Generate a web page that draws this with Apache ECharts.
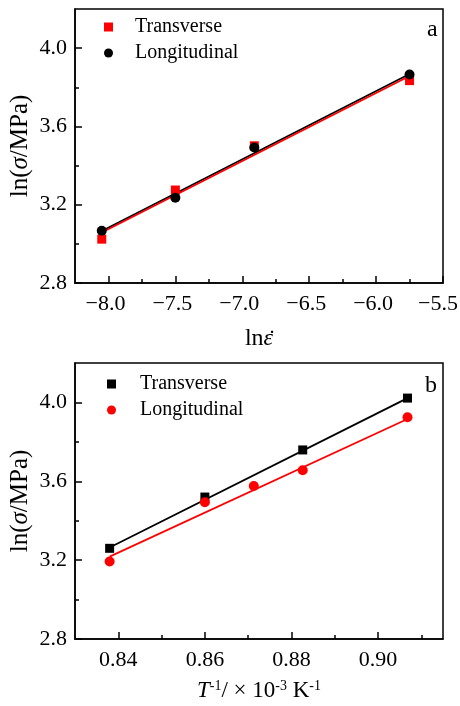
<!DOCTYPE html>
<html><head><meta charset="utf-8">
<script src="https://cdn.jsdelivr.net/npm/echarts@6/dist/echarts.min.js"></script>
<style>html,body{margin:0;padding:0;background:#fff}#c{width:460px;height:706px}</style>
</head><body><div id="c"></div>
<script>
const FONT = '"Liberation Serif","Times New Roman",serif';
// ---- Panel a data ----
const aTransX = [-8.05, -7.50, -6.91, -5.75];
const aTransY = [3.024, 3.275, 3.501, 3.834];
const aLongX = [-8.05, -7.50, -6.91, -5.75];
const aLongY = [3.067, 3.236, 3.492, 3.865];
const aTransFitX = [-8.05, -5.75];
const aTransFitY = [3.058, 3.858];
const aLongFitX = [-8.05, -5.75];
const aLongFitY = [3.066, 3.868];
const aXTicks = [-8.0, -7.5, -7.0, -6.5, -6.0, -5.5];
const aXMinor = [-7.75, -7.25, -6.75, -6.25, -5.75];
// ---- Panel b data ----
const bTransX = [0.838, 0.860, 0.8826, 0.9068];
const bTransY = [3.260, 3.520, 3.759, 4.022];
const bLongX = [0.838, 0.860, 0.8713, 0.8826, 0.9068];
const bLongY = [3.193, 3.494, 3.576, 3.656, 3.925];
const bTransFitX = [0.838, 0.9068];
const bTransFitY = [3.264, 4.022];
const bLongFitX = [0.838, 0.9068];
const bLongFitY = [3.218, 3.916];
const bXTicks = [0.84, 0.86, 0.88, 0.90];
const bXMinor = [0.85, 0.87, 0.89, 0.91];
// ---- shared y ticks ----
const yTicks = [2.8, 3.2, 3.6, 4.0];
const yMinor = [3.0, 3.4, 3.8];

const zip = (xs, ys) => xs.map((x, i) => [x, ys[i]]);
const BLK = '#000', RED = '#ff0000';

function majorAxis(gi, min, max, ticks, fmt, pos, extra, rich) {
  return Object.assign({
    type: 'value', gridIndex: gi, min: min, max: max, position: pos,
    axisLine: { show: true, onZero: false, lineStyle: { color: BLK, width: 1.5 } },
    axisTick: { show: true, inside: true, length: 7, customValues: ticks, lineStyle: { color: BLK, width: 1.5 } },
    axisLabel: { customValues: ticks, formatter: fmt, color: BLK, fontFamily: FONT, fontSize: 22,
      margin: pos === 'left' ? 8 : 10, rich: rich || {} },
    splitLine: { show: false }
  }, extra || {});
}
function minorAxis(gi, min, max, ticks, pos) {
  return {
    type: 'value', gridIndex: gi, min: min, max: max, position: pos,
    axisLine: { show: false },
    axisTick: { show: true, inside: true, length: 4, customValues: ticks, lineStyle: { color: BLK, width: 1.5 } },
    axisLabel: { show: false },
    splitLine: { show: false }
  };
}
const aXRich = {
  m: { fontFamily: FONT, fontSize: 22, color: BLK, padding: [0, 6, 0, 0] },
  e: { fontFamily: FONT, fontSize: 22, color: BLK, padding: [0, 10, 0, 0] }
};
const minusFmt = v => {
  const s = (v < 0 ? '\u2212' : '') + Math.abs(v).toFixed(1);
  return v === aXTicks[aXTicks.length - 1] ? '{e|' + s + '}' : '{m|' + s + '}';
};
const yFmt = v => v.toFixed(1);
function nameStyle(fs) {
  return { fontFamily: FONT, fontSize: fs, color: BLK,
    rich: {
      i: { fontFamily: FONT, fontSize: fs, fontStyle: 'italic', color: BLK },
      n: { fontFamily: FONT, fontSize: fs, color: BLK },
      s: { fontFamily: FONT, fontSize: 14, color: BLK, verticalAlign: 'top', padding: [0, 0, 9, 0] }
    }
  };
}
const yName = 'ln({i|σ}/MPa)';

function pts(name, xi, yi, xs, ys, sym, color, size) {
  return { name: name, type: 'scatter', xAxisIndex: xi, yAxisIndex: yi, data: zip(xs, ys),
    symbol: sym, symbolSize: size, itemStyle: { color: color, opacity: 1 }, z: 5 };
}
function fit(xi, yi, xs, ys, color) {
  return { type: 'line', xAxisIndex: xi, yAxisIndex: yi, data: zip(xs, ys), symbol: 'none',
    lineStyle: { color: color, width: 1.8 }, z: 3, silent: true };
}
const legText = { fontFamily: FONT, fontSize: 20, color: BLK, rich: { g: { width: 17 }, h: { width: 19 } } };
const yNameOpts = { name: yName, nameLocation: 'middle', nameGap: 42, nameMoveOverlap: false, nameTextStyle: nameStyle(25) };

const chart = echarts.init(document.getElementById('c'), null, { renderer: 'canvas' });
chart.setOption({
  animation: false,
  backgroundColor: '#fff',
  title: [
    { text: 'a', left: 422, top: 13, textStyle: { fontFamily: FONT, fontSize: 24, fontWeight: 'normal', color: BLK } },
    { text: 'b', left: 420, top: 369, textStyle: { fontFamily: FONT, fontSize: 24, fontWeight: 'normal', color: BLK } },
    { text: '˙', left: 263, top: 323, textStyle: { fontFamily: FONT, fontSize: 24, fontWeight: 'normal', color: BLK } }
  ],
  grid: [
    { left: 75, top: 9, width: 368, height: 274, show: true, borderColor: BLK, borderWidth: 1.5, backgroundColor: 'transparent', outerBoundsMode: 'none', containLabel: false },
    { left: 75, top: 363, width: 368, height: 276, show: true, borderColor: BLK, borderWidth: 1.5, backgroundColor: 'transparent', outerBoundsMode: 'none', containLabel: false }
  ],
  legend: [
    { data: [{ name: 'Transverse', icon: 'rect' }, { name: 'Longitudinal', icon: 'circle' }],
      orient: 'vertical', left: 99, top: 12, itemWidth: 9, itemHeight: 9, itemGap: 6, selectedMode: false,
      formatter: n => '{g|}' + n,
      textStyle: legText },
    { data: [{ name: 'b-Transverse', icon: 'rect' }, { name: 'b-Longitudinal', icon: 'circle' }],
      orient: 'vertical', left: 102, top: 369, itemWidth: 9, itemHeight: 9, itemGap: 6, selectedMode: false,
      formatter: n => '{h|}' + n.replace(/^b-/, ''),
      textStyle: legText }
  ],
  xAxis: [
    majorAxis(0, -8.25, -5.5, aXTicks, minusFmt, 'bottom',
      { name: 'ln{i|ε}', nameLocation: 'middle', nameGap: 44, nameTextStyle: nameStyle(24) }, aXRich),
    minorAxis(0, -8.25, -5.5, aXMinor, 'bottom'),
    majorAxis(1, 0.83, 0.915, bXTicks, v => v.toFixed(2), 'bottom',
      { name: '{i|T}{s|-1}{n|/ × 10}{s|-3}{n| K}{s|-1}', nameLocation: 'middle', nameGap: 40, nameTextStyle: nameStyle(23) }),
    minorAxis(1, 0.83, 0.915, bXMinor, 'bottom')
  ],
  yAxis: [
    majorAxis(0, 2.8, 4.2, yTicks, yFmt, 'left', yNameOpts),
    minorAxis(0, 2.8, 4.2, yMinor, 'left'),
    majorAxis(1, 2.8, 4.2, yTicks, yFmt, 'left', yNameOpts),
    minorAxis(1, 2.8, 4.2, yMinor, 'left')
  ],
  series: [
    fit(0, 0, aLongFitX, aLongFitY, BLK),
    fit(0, 0, aTransFitX, aTransFitY, RED),
    pts('Transverse', 0, 0, aTransX, aTransY, 'rect', RED, 9),
    pts('Longitudinal', 0, 0, aLongX, aLongY, 'circle', BLK, 10),
    fit(2, 2, bTransFitX, bTransFitY, BLK),
    fit(2, 2, bLongFitX, bLongFitY, RED),
    pts('b-Transverse', 2, 2, bTransX, bTransY, 'rect', BLK, 9),
    pts('b-Longitudinal', 2, 2, bLongX, bLongY, 'circle', RED, 10)
  ]
});
</script></body></html>
